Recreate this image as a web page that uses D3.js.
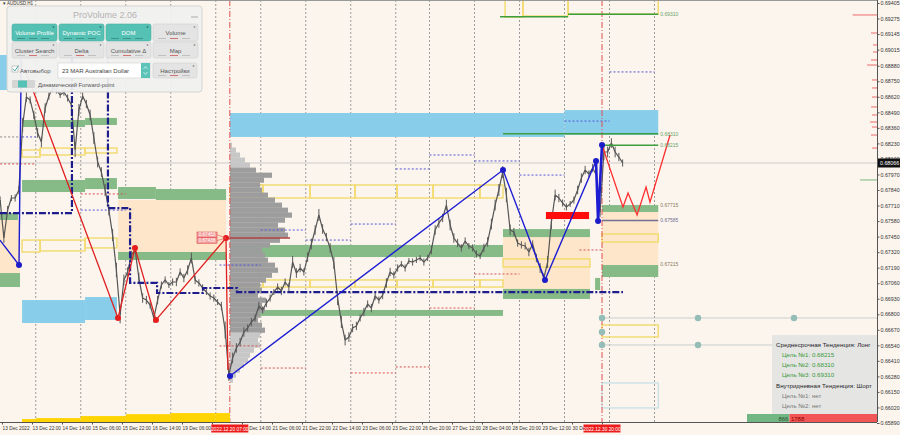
<!DOCTYPE html>
<html><head><meta charset="utf-8">
<script src="https://cdn.jsdelivr.net/npm/d3@7"></script>
<style>
html,body{margin:0;padding:0;background:#fcf5ee;}
svg{display:block;font-family:"Liberation Sans",Arial,sans-serif;}
</style></head><body>
<svg id="chart" width="900" height="435"></svg>
<script>
// ---------- DATA ----------
const priceTickValues = [0.69405,0.69275,0.69145,0.69015,0.68880,0.68750,0.68620,0.68490,0.68360,0.68230,0.68100,0.67970,0.67840,0.67710,0.67580,0.67450,0.67320,0.67190,0.67060,0.66930,0.66800,0.66670,0.66540,0.66410,0.66280,0.66150,0.66020,0.65890];
const timeTickHours = [6,22,38,54,70,86,102,118,134,150,166,182,198,214,230,246,262,278,294,310,326];
const timeTickLabels = ["13 Dec 2022","13 Dec 22:00","14 Dec 14:00","15 Dec 06:00","15 Dec 22:00","16 Dec 14:00","19 Dec 06:00","19 Dec 22:00","20 Dec 14:00","21 Dec 06:00","21 Dec 22:00","22 Dec 14:00","23 Dec 06:00","23 Dec 22:00","26 Dec 20:00","27 Dec 12:00","28 Dec 04:00","28 Dec 20:00","29 Dec 12:00","30 Dec 04:00","30 Dec 20:00"];
const daySeparatorHours = [24,48,72,96,120,144,168,192,216,234,258,282,306,330,354];
const markerHours = [127.5, 326];
const markerLabels = ["2022.12.20 07:00","2022.12.30 20:00"];
const currentPrice = 0.68066;

const closeStartHour = 5, closeStepHours = 2;
const closes = [
0.67756,0.67438,0.67672,0.67773,0.67773,0.67840,0.68384,0.68618,0.68593,0.68468,
0.68317,0.68242,0.68526,0.68626,0.68693,0.68677,0.68635,0.68660,0.68610,0.68551,
0.68175,0.68509,0.68626,0.68560,0.68468,0.68275,0.68074,0.67990,0.67840,0.67672,
0.67463,0.67170,0.66794,0.67087,0.67154,0.67296,0.67338,0.67103,0.66936,0.66919,
0.66877,0.66769,0.66919,0.67045,0.67087,0.67045,0.67070,0.67070,0.67154,0.67103,
0.67170,0.67271,0.67087,0.67062,0.67020,0.66986,0.66953,0.66936,0.66902,0.66869,
0.66668,0.66292,0.66434,0.66518,0.66568,0.66652,0.66685,0.66735,0.66769,0.66869,
0.66836,0.66894,0.66936,0.66986,0.67028,0.66995,0.67070,0.67028,0.67237,0.67145,
0.67187,0.67154,0.67279,0.67388,0.67505,0.67631,0.67513,0.67446,0.67355,0.67229,
0.66936,0.66735,0.66584,0.66609,0.66685,0.66702,0.66769,0.66819,0.66886,0.66852,
0.66953,0.66919,0.66961,0.67062,0.67154,0.67128,0.67187,0.67220,0.67187,0.67246,
0.67237,0.67254,0.67271,0.67237,0.67271,0.67338,0.67505,0.67564,0.67606,0.67714,
0.67547,0.67438,0.67396,0.67355,0.67413,0.67371,0.67355,0.67304,0.67287,0.67355,
0.67405,0.67555,0.67714,0.67840,0.67990,0.67798,0.67505,0.67488,0.67396,0.67380,
0.67371,0.67321,0.67388,0.67271,0.67187,0.67103,0.67237,0.67572,0.67798,0.67773,
0.67731,0.67698,0.67723,0.67756,0.67840,0.67940,0.68007,0.67974,0.68024,0.67965,
0.67656,0.68158,0.68158,0.68233,0.68158,0.68116,0.68066];
// high-low range of each bar, in pips
const barRangePips = [
6,8,7,5,6,7, 12,8,6,7,8,9, 8,6,7,6,5,6,6,7, 12,10,6,7,9,10, 9,8,10,9,10,12,14,
9,8,7,6,9,8,7,6,8, 7,6,6,5,6,7,6,7,8,9,7,6,6,5,6,6,5,7, 14,10,9,8,7,8,6,7,
6,7,6,7,6,5,6,7,6,7,10,8,7,6,8,9,8,10,8,7,8,10, 12,10,9,8,7,7,6,7,6,7,
7,6,7,8,7,6,6,5,6,5,6,5,5,6,5,7,8,8,7,9, 9,8,7,6,6,5,6,6,5,7,8,9,9,10,
10,12,9,7,6,6,6,7,6,7,8,8,10, 12,9,7,6,6,5,6,7,8,7,6,7,7,8,14,9,8,9,7,6];

// zones: [startHour, endHour, highPrice, lowPrice]
const blueZones = [[127.6,306,0.68484,0.68284],[306,356,0.68509,0.68300],[16.7,50.3,0.66919,0.66727],[50.3,67.3,0.66944,0.66752],[4.9,8.7,0.68970,0.68677]];
const greenZones = [[16.7,50.3,0.68426,0.68367],[50.3,67.3,0.68443,0.68384],[16.7,50.3,0.67924,0.67823],[50.3,67.3,0.67940,0.67848],
  [4.9,14.5,0.67647,0.67589],[4.9,15.6,0.67145,0.67028],[67.9,88.1,0.67865,0.67765],[88.1,125.5,0.67848,0.67756],
  [67.9,125.5,0.67321,0.67254],[127.6,273.2,0.67380,0.67279],[140.9,273.2,0.66836,0.66786],[273.2,319.6,0.67513,0.67446],
  [273.2,319.6,0.67012,0.66928],[326,356,0.67714,0.67656],[326,356,0.67212,0.67112],[322.3,325,0.67104,0.67003]];
const peachZones = [[67.9,125.5,0.67756,0.67321],[4.9,15.6,0.67589,0.67145],[273.2,319.6,0.67446,0.67012],[326,356,0.67656,0.67212]];
const yellowBoxes = [[16.7,26.3,0.68175,0.68116],[26.3,50.3,0.68191,0.68133],[50.3,67.3,0.68191,0.68150],
  [16.7,26.3,0.67421,0.67321],[26.3,50.3,0.67421,0.67330],[50.3,67.3,0.67438,0.67355],
  [127.6,145.2,0.67882,0.67773],[145.2,170.3,0.67882,0.67773],[170.3,194.3,0.67882,0.67773],[194.3,216.7,0.67882,0.67773],[216.7,235.9,0.67882,0.67773],[235.9,260.9,0.67882,0.67773],[260.9,273.2,0.67882,0.67773],
  [127.6,145.2,0.67087,0.67028],[145.2,170.3,0.67087,0.67028],[170.3,194.3,0.67087,0.67028],[194.3,216.7,0.67087,0.67028],[216.7,235.9,0.67087,0.67028],[235.9,260.9,0.67087,0.67028],[260.9,273.2,0.67087,0.67028],
  [273.2,319.6,0.67263,0.67196],[326,356,0.67472,0.67405],[326,356,0.66710,0.66610],
  [274.3,283.9,0.6950,0.69288],[283.9,307.9,0.6950,0.69296],[307.9,356,0.6950,0.69313]];
const lightBlueBoxes = [[326,356,0.66225,0.66016]];

// volume profile
const profileStartHour = 127.6;
const profileLevels = [0.68216,0.68175,0.68133,0.68091,0.68049,0.68007,0.67965,0.67924,0.67882,0.67840,0.67798,0.67756,0.67714,0.67672,0.67631,0.67589,0.67547,0.67505,0.67463,0.67421,0.67380,0.67338,0.67296,0.67254,0.67212,0.67170,0.67128,0.67087,0.67045,0.67003,0.66961,0.66919,0.66877,0.66836,0.66794,0.66752,0.66710,0.66668,0.66626,0.66584,0.66543,0.66501,0.66459,0.66417,0.66375,0.66333,0.66292,0.66250];
const profileVolumes = [20,60,100,150,200,260,420,340,300,320,380,450,520,580,620,550,480,550,580,500,400,320,350,380,450,480,420,360,300,320,280,360,320,350,300,280,320,350,300,280,300,240,200,180,140,100,60,30];
const valueAreaHigh = 0.68007, valueAreaLow = 0.66668;
const pocLevel = 0.67438, pocEndHour = 159.6;

// dotted levels [startHour, endHour, price]
const blueDotted = [[16.7,24,0.68284],[48,72,0.67672],[234,258,0.68133],[258,282,0.68083],[216,234,0.68016],[192,216,0.67555],[144,168,0.67505],[168,192,0.67421],[122,144,0.67212],[282,306,0.67965],[306,330,0.68417],[330,354,0.68828]];
const redDotted = [[5,24,0.68058],[48,72,0.67807],[122,144,0.66535],[144,168,0.66350],[192,216,0.66309],[216,234,0.66359],[234,258,0.66852],[258,282,0.67137],[314,326,0.67338]];
const grayDotted = [[5,16.7,0.68284]];

// navy dash-dot POC path [hour, price]
const pocLeft = [[4.9,0.67647],[43.3,0.67647],[43.3,0.6910]];
const pocMain = [[62.5,0.6910],[62.5,0.67689],[74.3,0.67689],[74.3,0.67062],[88.7,0.67062],[88.7,0.66978],[113.2,0.66978],[113.2,0.67020],[131.3,0.67020],[131.3,0.66986],[337.2,0.66986]];

// zigzags [hour, price]
const zzBlueA = [[4.9,0.67421],[15.07,0.67212],[16.4,0.6915]];
const zzBlueB = [[127.6,0.66283],[273.2,0.68007],[295.6,0.67087],[322.8,0.68083]];
const zzBlueC = [[322.8,0.68083],[323.9,0.67580],[326,0.68216]];
const zzRed = [[18.27,0.68853],[67.87,0.66769],[76.93,0.67355],[88.13,0.66752],[125.47,0.67438],[126.5,0.66333]];
const projection = [[326,0.68216],[337.2,0.67697],[339.9,0.67815],[344.7,0.67631],[349.5,0.67865],[351.6,0.67739],[362.3,0.68300]];
const redBar = [296.1,319.1,0.67656,0.67597];
const redBoxLabels = ["0.67453","0.67438"];

// targets
const targetLines = [[271.6,307.9,0.69290],[307.9,356,0.69310],[273.2,356,0.68310],[326,356,0.68215]];
const slateLines = [[326,356,0.67585]];
const targetLabels = [[0.69310,"0.69310","#6aa36a"],[0.68310,"0.68310","#6aa36a"],[0.68215,"0.68215","#6aa36a"],[0.67715,"0.67715","#8a7a60"],[0.67585,"0.67585","#707090"],[0.67215,"0.67215","#8a7a60"]];
const tealDots = [[326,0.66769],[377.2,0.66769],[428.4,0.66769],[326,0.66652],[326,0.66543],[377.2,0.66543],[428.4,0.66543]];
const tealLines = [[326,0.66769],[326,0.66543]];

// right edge histogram [price, lengthHours]
const rightHistRed = [[0.69305,13],[0.69154,3.2],[0.69054,2.1],[0.68995,2.1],[0.68928,3.2],[0.68886,5.3],[0.68761,2.7],[0.68694,2.7],[0.68618,2.7],[0.68535,3.2],[0.68468,2.7],[0.68409,3.7],[0.68367,2.7],[0.68300,3.2],[0.68191,2.7]];
const rightHistGreen = [[0.67924,9]];

// bottom volume
const yellowVol = [[16.7,24,0.65923],[24,48,0.65931],[48,72,0.65948],[72,96,0.65964],[96,120,0.65973],[120,127.6,0.65973]];
const buyVolume = 866, sellVolume = 1788;

// info
const midTrend = "Среднесрочная Тенденция: Лонг";
const midTargets = ["0.68215","0.68310","0.69310"];
const intraTrend = "Внутридневная Тенденция: Шорт";
const intraTargets = ["нет","нет"];

// ---------- DRAW ----------
const W=900,H=435,plotW=877,plotH=422;
const svg=d3.select("#chart");
const x=d3.scaleLinear().domain([0,480]).range([-9.25,890.75]);
const y=d3.scaleLinear().domain([0.65890,0.69405]).range([423,3]);
svg.append("rect").attr("width",W).attr("height",H).attr("fill","#fcf5ee");
svg.append("defs").append("clipPath").attr("id","plot").append("rect").attr("width",plotW).attr("height",plotH);
const g=svg.append("g").attr("clip-path","url(#plot)");
const endHour = x.invert(plotW);

function zones(data, fill, stroke, sw){
  g.append("g").selectAll("rect").data(data).join("rect")
   .attr("x",d=>x(d[0])).attr("width",d=>x(d[1])-x(d[0]))
   .attr("y",d=>y(d[2])).attr("height",d=>y(d[3])-y(d[2]))
   .attr("fill",fill).attr("stroke",stroke||"none").attr("stroke-width",sw||0);
}
function segs(data, color, dash, sw){
  g.append("g").selectAll("line").data(data).join("line")
   .attr("x1",d=>x(d[0])).attr("x2",d=>x(d[1])).attr("y1",d=>y(d[2])).attr("y2",d=>y(d[2]))
   .attr("stroke",color).attr("stroke-width",sw||1).attr("stroke-dasharray",dash||null);
}
const line=d3.line().x(d=>x(d[0])).y(d=>y(d[1]));

// day separators
g.append("g").selectAll("line").data(daySeparatorHours).join("line")
 .attr("x1",d=>x(d)).attr("x2",d=>x(d)).attr("y1",0).attr("y2",plotH)
 .attr("stroke","#9c9c9c").attr("stroke-dasharray","2,2");

zones(peachZones,"#fde6ca");
zones(greenZones,"#86bb87");
zones(blueZones,"#88cdea");
zones(yellowBoxes,"none","#f2da6c",1.4);
zones(lightBlueBoxes,"none","#b5d9e6",1);

// current price line
g.append("line").attr("x1",0).attr("x2",plotW).attr("y1",y(currentPrice)).attr("y2",y(currentPrice)).attr("stroke","#cbcbcb");

// volume profile
const half=(profileLevels[0]-profileLevels[1])/2;
const vpW=d3.scaleLinear().domain([0,620]).range([0,62]);
g.append("g").selectAll("rect").data(profileLevels).join("rect")
 .attr("x",x(profileStartHour)).attr("width",(d,i)=>vpW(profileVolumes[i]))
 .attr("y",d=>y(d+half)).attr("height",d=>y(d-half)-y(d+half)+0.3)
 .attr("fill",d=>(d<=valueAreaHigh&&d>=valueAreaLow)?"#9d9d9d":"#c7c7c7");
g.append("line").attr("x1",x(125.5)).attr("x2",x(pocEndHour)).attr("y1",y(pocLevel)).attr("y2",y(pocLevel)).attr("stroke","#b04040").attr("stroke-width",1.6);

segs(blueDotted,"#5555d8","2,2");
segs(redDotted,"#d85050","2,2");
segs(grayDotted,"#888","2,2");

// markers
g.append("g").selectAll("line").data(markerHours).join("line")
 .attr("x1",d=>x(d)).attr("x2",d=>x(d)).attr("y1",0).attr("y2",plotH)
 .attr("stroke","#e05050").attr("stroke-dasharray","6,2,1,2");

// price bars + close line
const pip=0.0001;
g.append("g").selectAll("line").data(closes).join("line")
 .attr("x1",(d,i)=>x(closeStartHour+i*closeStepHours)).attr("x2",(d,i)=>x(closeStartHour+i*closeStepHours))
 .attr("y1",(d,i)=>y(d+barRangePips[i]*pip*0.5)).attr("y2",(d,i)=>y(d-barRangePips[i]*pip*0.5))
 .attr("stroke","#5a5a5a").attr("stroke-width",1);
g.append("path").datum(closes.map((c,i)=>[closeStartHour+i*closeStepHours,c]))
 .attr("d",line).attr("fill","none").attr("stroke","#555").attr("stroke-width",1.2).attr("stroke-linejoin","bevel");

// targets
segs(targetLines,"#3e9e3e",null,1.5);
segs(slateLines,"#6f6f8f",null,1.5);
zones([redBar],"#ff0d0d");

// POC dash-dot
[pocLeft,pocMain].forEach(p=>g.append("path").datum(p).attr("d",line).attr("fill","none")
  .attr("stroke","#1d1d8c").attr("stroke-width",2.2).attr("stroke-dasharray","7,2,2,2"));

// zigzags
g.append("path").datum(zzRed).attr("d",line).attr("fill","none").attr("stroke","#e02020").attr("stroke-width",1.3);
g.append("path").datum(projection).attr("d",line).attr("fill","none").attr("stroke","#ff2d2d").attr("stroke-width",1.3);
[zzBlueA,zzBlueB].forEach(p=>g.append("path").datum(p).attr("d",line).attr("fill","none").attr("stroke","#1c1cd2").attr("stroke-width",1.4));
g.append("path").datum(zzBlueC).attr("d",line).attr("fill","none").attr("stroke","#1c1cd2").attr("stroke-width",2.6);
g.append("g").selectAll("circle").data(zzRed.slice(1,5)).join("circle")
 .attr("cx",d=>x(d[0])).attr("cy",d=>y(d[1])).attr("r",3).attr("fill","#e51d1d");
g.append("g").selectAll("circle").data([zzBlueA[1],...zzBlueB,...zzBlueC.slice(1)]).join("circle")
 .attr("cx",d=>x(d[0])).attr("cy",d=>y(d[1])).attr("r",3).attr("fill","#1c1cc8");

// red label boxes near zigzag point
const rp=zzRed[4];
redBoxLabels.forEach((t,i)=>{
  const bx=x(rp[0])-29, by=y(rp[1])-6+i*5.8;
  g.append("line").attr("x1",bx+20).attr("y1",by+2.7).attr("x2",x(rp[0])).attr("y2",y(rp[1])).attr("stroke","#e05050").attr("stroke-width",0.6);
  g.append("rect").attr("x",bx).attr("y",by).attr("width",20).attr("height",5.4).attr("fill","#f2a0a0").attr("stroke","#e04444").attr("stroke-width",0.6);
  g.append("text").attr("x",bx+10).attr("y",by+4.4).attr("text-anchor","middle").attr("font-size",4.6).attr("fill","#fff").text(t);
});

// target labels
g.append("g").selectAll("text").data(targetLabels).join("text")
 .attr("x",x(356)+2).attr("y",d=>y(d[0])+1.8).attr("font-size",5).attr("fill",d=>d[2]).text(d=>d[1]);

// teal dots
g.append("g").selectAll("line").data(tealLines).join("line")
 .attr("x1",d=>x(d[0])).attr("x2",plotW).attr("y1",d=>y(d[1])).attr("y2",d=>y(d[1])).attr("stroke","#c9cfcd");
g.append("g").selectAll("circle").data(tealDots).join("circle")
 .attr("cx",d=>x(d[0])).attr("cy",d=>y(d[1])).attr("r",3.2).attr("fill","#93bdb6");

// right histogram
g.append("g").selectAll("line").data(rightHistRed).join("line")
 .attr("x1",d=>x(endHour-d[1])).attr("x2",plotW).attr("y1",d=>y(d[0])).attr("y2",d=>y(d[0])).attr("stroke","#f08080").attr("stroke-width",1.2);
g.append("g").selectAll("line").data(rightHistGreen).join("line")
 .attr("x1",d=>x(endHour-d[1])).attr("x2",plotW).attr("y1",d=>y(d[0])).attr("y2",d=>y(d[0])).attr("stroke","#7ab87a").attr("stroke-width",1);

// bottom yellow volume
g.append("g").selectAll("rect").data(yellowVol).join("rect")
 .attr("x",d=>x(d[0])).attr("width",d=>x(d[1])-x(d[0])).attr("y",d=>y(d[2])).attr("height",d=>y(0.65890)-y(d[2]))
 .attr("fill","#ffd400");

// info panel
const ip=svg.append("g");
ip.append("rect").attr("x",772).attr("y",335).attr("width",105).attr("height",80).attr("fill","#e3e3e3").attr("fill-opacity",0.93);
const infoRows=[[midTrend,776,347,"#262626"],...midTargets.map((t,i)=>["Цель №"+(i+1)+": "+t,782,357+i*10,"#3b9a3b"]),[intraTrend,776,388,"#262626"],...intraTargets.map((t,i)=>["Цель №"+(i+1)+": "+t,782,398+i*10,"#7a7a7a"])];
ip.selectAll("text").data(infoRows).join("text").attr("x",d=>d[1]).attr("y",d=>d[2]).attr("font-size",6.2).attr("fill",d=>d[3]).text(d=>d[0]);
// volume bar
const vx=d3.scaleLinear().domain([0,buyVolume+sellVolume]).range([747,877]);
ip.append("rect").attr("x",vx(0)).attr("y",414).attr("width",vx(buyVolume)-vx(0)).attr("height",8).attr("fill","#72b783");
ip.append("rect").attr("x",vx(buyVolume)).attr("y",414).attr("width",vx(buyVolume+sellVolume)-vx(buyVolume)).attr("height",8).attr("fill","#f25555");
ip.append("text").attr("x",vx(buyVolume)-1).attr("y",420.5).attr("text-anchor","end").attr("font-size",6).attr("fill","#2f4f2f").text(buyVolume);
ip.append("text").attr("x",vx(buyVolume)+1.5).attr("y",420.5).attr("font-size",6).attr("fill","#8b0000").text(sellVolume);

// axes
svg.append("line").attr("x1",plotW+0.5).attr("x2",plotW+0.5).attr("y1",0).attr("y2",plotH).attr("stroke","#555");
svg.append("line").attr("x1",0).attr("x2",plotW).attr("y1",plotH+0.5).attr("y2",plotH+0.5).attr("stroke","#555");
svg.append("line").attr("x1",0).attr("x2",plotW).attr("y1",0.5).attr("y2",0.5).attr("stroke","#999");
const ay=svg.append("g").attr("transform",`translate(${plotW},0)`)
 .call(d3.axisRight(y).tickValues(priceTickValues).tickSize(2.5).tickFormat(d3.format(".5f")));
ay.select(".domain").remove();
ay.selectAll("text").attr("font-size",5.3).attr("fill","#333").attr("x",3.5).attr("font-family","Liberation Sans, Arial");
ay.selectAll("line").attr("stroke","#555");
// time labels fully hidden under the marker labels are not drawn (as in the reference)
const hiddenTicks = timeTickHours.filter(h=>markerHours.some(m=>Math.abs(x(h)-x(m))<6));
const ax=svg.append("g").attr("transform",`translate(0,${plotH})`)
 .call(d3.axisBottom(x).tickValues(timeTickHours).tickSize(2.5).tickFormat((d,i)=>hiddenTicks.includes(d)?"":timeTickLabels[i]));
ax.select(".domain").remove();
ax.selectAll("text").attr("font-size",4.8).attr("fill","#333").attr("text-anchor","start").attr("x",0).attr("y",5).attr("dy","0.71em").attr("font-family","Liberation Sans, Arial");
ax.selectAll("line").attr("stroke","#555");
// marker labels
markerHours.forEach((h,i)=>{
  svg.append("rect").attr("x",x(h)-18.5).attr("y",424.5).attr("width",37).attr("height",8).attr("fill","#ec1c1c");
  svg.append("text").attr("x",x(h)).attr("y",430.6).attr("text-anchor","middle").attr("font-size",4.8).attr("fill","#fff").text(markerLabels[i]);
});
// current price box
svg.append("rect").attr("x",plotW+1).attr("y",y(currentPrice)-4.5).attr("width",22).attr("height",9).attr("fill","#111");
svg.append("text").attr("x",plotW+3).attr("y",y(currentPrice)+2).attr("font-size",5.3).attr("fill","#fff").text(d3.format(".5f")(currentPrice));

// symbol caption
svg.append("text").attr("x",3).attr("y",5).attr("font-size",4.5).attr("fill","#333").text("▾ AUDUSD,H1");

// ProVolume panel
const pv=svg.append("g");
pv.append("rect").attr("x",7).attr("y",6).attr("width",195).attr("height",86).attr("rx",3).attr("fill","#f0f0f0").attr("fill-opacity",0.94).attr("stroke","#d3d3d3");
pv.append("text").attr("x",105).attr("y",17.5).attr("text-anchor","middle").attr("font-size",9).attr("fill","#b3b3b3").text("ProVolume 2.06");
pv.append("line").attr("x1",191).attr("x2",198).attr("y1",17).attr("y2",17).attr("stroke","#aaa");
const btnCols=[12,59,106,153];
const row1=["Volume Profile","Dynamic POC","DOM","Volume"], row1Active=[true,true,true,false];
const row2=["Cluster Search","Delta","Cumulative Δ","Map"];
function button(bx,by,w,h,label,active){
  pv.append("rect").attr("x",bx).attr("y",by).attr("width",w).attr("height",h).attr("rx",2)
    .attr("fill",active?"#55c1b4":"#e4e4e4").attr("stroke",active?"#4aae9f":"#d0d0d0").attr("stroke-width",0.6);
  pv.append("text").attr("x",bx+w/2).attr("y",by+h/2+2.8).attr("text-anchor","middle").attr("font-size",6)
    .attr("fill",active?"#fff":"#555").text(label);
  pv.append("circle").attr("cx",bx+w-3.5).attr("cy",by+3).attr("r",0.9).attr("fill",active?"#2f7f75":"#999");
  [0,1,2].forEach(k=>pv.append("rect").attr("x",bx+5+k*12).attr("y",by+h-3).attr("width",8).attr("height",0.9)
    .attr("fill",active?"#3a8f85":(k===1?"#c66":"#bbb")));
}
row1.forEach((l,i)=>button(btnCols[i],24,45,17,l,row1Active[i]));
row2.forEach((l,i)=>button(btnCols[i],42,45,16,l,false));
pv.append("rect").attr("x",12).attr("y",66).attr("width",6).attr("height",6).attr("fill","#fff").attr("stroke","#999").attr("stroke-width",0.5);
pv.append("path").attr("d","M12.8,68.8 L14.8,71 L18.5,65.5").attr("fill","none").attr("stroke","#3aa597").attr("stroke-width",0.9);
pv.append("text").attr("x",20).attr("y",72.5).attr("font-size",6).attr("fill","#555").text("Автовыбор");
pv.append("rect").attr("x",58).attr("y",63).attr("width",92).attr("height",15).attr("fill","#fff").attr("stroke","#cfcfcf").attr("stroke-width",0.6);
pv.append("text").attr("x",62).attr("y",73).attr("font-size",6).attr("fill","#444").text("23 MAR Australian Dollar");
pv.append("rect").attr("x",141).attr("y",63).attr("width",9).attr("height",15).attr("fill","#5cc3b8");
pv.append("path").attr("d","M143.5,69 L145.5,66.5 L147.5,69 M143.5,72 L145.5,74.5 L147.5,72").attr("fill","none").attr("stroke","#fff").attr("stroke-width",0.6);
button(153,63,44,15,"Настройки",false);
pv.append("rect").attr("x",12).attr("y",80).attr("width",23).attr("height",8).attr("rx",1).attr("fill","#d5d5d5");
pv.append("rect").attr("x",18).attr("y",80.5).attr("width",9).attr("height",7).attr("fill","#56c1b4");
pv.append("text").attr("x",38).attr("y",86.5).attr("font-size",5.8).attr("fill","#555").text("Динамический Forward-point");
</script>
</body></html>
